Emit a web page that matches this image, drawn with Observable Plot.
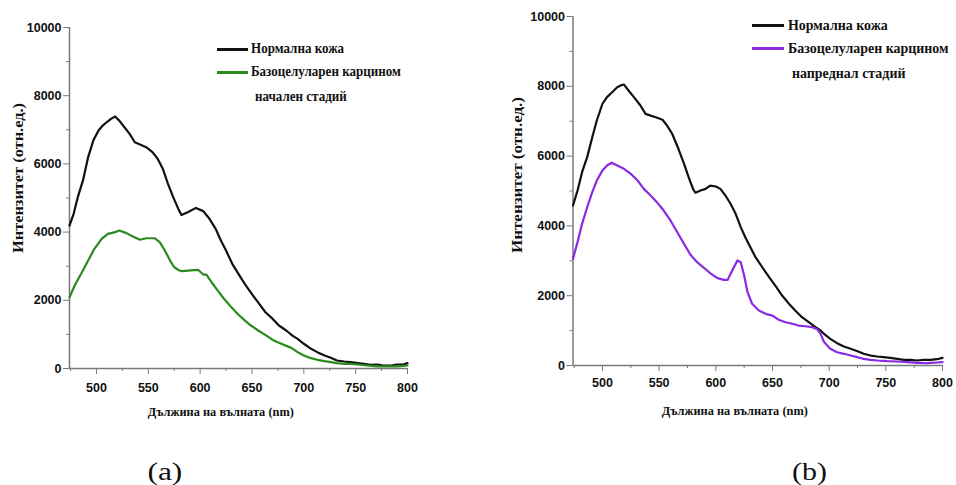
<!DOCTYPE html>
<html>
<head>
<meta charset="utf-8">
<script src="https://cdn.jsdelivr.net/npm/d3@7"></script>
<script src="https://cdn.jsdelivr.net/npm/@observablehq/plot@0.6"></script>
<style>
  html, body { margin: 0; padding: 0; background: #fff; }
  #wrap { position: relative; width: 956px; height: 485px; overflow: hidden;
          font-family: "Liberation Serif", "Times New Roman", serif; color: #111; }
  .panel { position: absolute; top: 0; }
  .t { position: absolute; white-space: nowrap; font-weight: bold; line-height: 1; }
  .sw { position: absolute; height: 3px; }
  .cap { position: absolute; white-space: nowrap; font-weight: normal; line-height: 1; }
</style>
</head>
<body>
<div id="wrap"></div>
<script>
// ---------------- data ----------------
const xDomain = [474, 800];
const yDomain = [0, 10000];
const xMajor = [500, 550, 600, 650, 700, 750, 800];
const xMinor = [475, 525, 575, 625, 675, 725, 775];
const yMajor = [0, 2000, 4000, 6000, 8000, 10000];
const yMinor = [1000, 3000, 5000, 7000, 9000];

const xTitle = "Дължина на вълната (nm)";
const yTitle = "Интензитет (отн.ед.)";
const legendNormal = "Нормална кожа";
const legendBcc = "Базоцелуларен карцином";
const stageA = "начален стадий";
const stageB = "напреднал стадий";
const captions = ["(a)", "(b)"];

// (a) normal skin
const aNormalW = [474,478,482,487,492,497,502,506,511,514,518,522,527,532,537,542,548,554,559,564,569,574,579,582,588,596,603,609,615,620,625,631,638,644,651,657,663,670,676,683,689,694,700,707,713,720,726,732,739,745,752,758,764,771,777,784,790,796,800];
const aNormalI = [4190,4535,5025,5515,6200,6690,6980,7125,7250,7320,7390,7270,7075,6880,6635,6570,6490,6345,6150,5855,5415,5025,4680,4500,4585,4710,4615,4390,4095,3755,3460,3070,2725,2435,2140,1895,1650,1455,1260,1115,965,870,725,577,480,380,313,235,205,185,157,137,108,117,88,88,117,117,157];
// (a) basal cell carcinoma, early stage
const aBccW = [474,479,486,492,498,505,511,518,522,529,535,542,548,556,561,566,571,575,580,583,591,598,603,606,611,617,623,630,636,643,649,656,664,671,680,688,694,700,707,713,720,726,732,739,745,752,761,771,781,790,800];
const aBccI = [2090,2435,2825,3165,3510,3800,3950,4000,4045,3970,3870,3775,3820,3820,3705,3460,3165,2970,2875,2855,2875,2895,2755,2755,2530,2285,2045,1800,1605,1410,1260,1115,965,820,705,605,480,380,303,255,215,185,157,137,137,117,88,60,60,60,88];

// (b) normal skin
const bNormalW = [474,478,482,486.5,491,495,500,504,508.5,513,516,519,523,529,533.5,538,542.5,547,553,557,561.5,567,572,576,580,582,586.5,591,595,600,604,608.5,613,617.5,622,626,630.5,635,641,647,652.5,658.5,664.5,670,676,682,688,692.5,695.5,701,707,713,719,725,730.5,736.5,742.5,748,754,760,766,772,777.5,783.5,789.5,795,800];
const bNormalI = [4585,5015,5540,5970,6540,7020,7500,7690,7830,7975,8025,8050,7880,7640,7450,7210,7160,7115,7040,6875,6640,6210,5780,5395,5050,4950,5015,5060,5155,5130,5060,4870,4635,4345,3965,3675,3390,3105,2815,2530,2290,2005,1770,1575,1385,1240,1100,1005,905,765,640,545,478,410,335,285,258,238,220,190,163,163,143,163,163,180,220];
// (b) basal cell carcinoma, advanced stage
const bBccW = [474,478,482,486.5,491,495,500,504,508,513,519,525,531,536.5,542.5,548,554,560,566,572,577.5,583.5,589.5,595,601,607,610.5,614.5,619,622,625,628,632,638,644,650,655.5,661.5,667.5,673,679,685,689.5,692.5,695.5,701,707,713,719,725,730.5,736.5,742.5,751,760,769,777.5,786.5,795,800];
const bBccI = [3055,3535,4060,4535,4965,5300,5590,5730,5810,5730,5635,5490,5300,5060,4870,4680,4440,4155,3820,3485,3180,2960,2800,2645,2510,2455,2455,2720,3010,2960,2580,2100,1770,1575,1480,1430,1310,1240,1195,1145,1125,1100,1040,900,670,478,380,335,285,238,190,163,143,123,115,95,77,66,86,95];

// ---------------- drawing ----------------
const axisGray = "#7a7a7a";
const colNormal = "#111111";
const colEarly = "#2a8a1e";
const colAdv = "#8a2be2";

function rows(w, i) { return w.map((d, k) => ({w: d, i: i[k]})); }

function panel(cfg) {
  const lines = cfg.series.map(s =>
    Plot.line(rows(s.w, s.i), {x: "w", y: "i", stroke: s.color, strokeWidth: 2.2, strokeLinejoin: "round"}));
  return Plot.plot({
    width: cfg.width, height: cfg.height,
    marginLeft: cfg.ml, marginRight: cfg.mr, marginTop: cfg.mt, marginBottom: cfg.mb,
    x: {domain: xDomain},
    y: {domain: yDomain},
    style: {fontFamily: "'Liberation Sans', Arial, sans-serif", fontSize: "12.5px", fontWeight: "bold", color: "#111", background: "transparent", overflow: "visible"},
    marks: [
      Plot.axisX({ticks: xMajor, tickSize: 6, tickPadding: cfg.xPad, stroke: axisGray, fill: "#111", label: null, tickFormat: d => String(d)}),
      Plot.axisX({ticks: xMinor, tickSize: 3, stroke: axisGray, label: null, tickFormat: () => ""}),
      Plot.axisY({ticks: yMajor, tickSize: 6, tickPadding: 2, stroke: axisGray, fill: "#111", label: null, tickFormat: d => String(d)}),
      Plot.axisY({ticks: yMinor, tickSize: 3, stroke: axisGray, label: null, tickFormat: () => ""}),
      Plot.ruleX([xDomain[0]], {stroke: axisGray, strokeWidth: 1.5}),
      Plot.ruleY([yDomain[0]], {stroke: axisGray, strokeWidth: 1.5}),
      ...lines
    ]
  });
}

const wrap = document.getElementById("wrap");

function place(el, left, top) {
  el.style.left = left + "px"; el.style.top = top + "px"; wrap.appendChild(el); return el;
}

const panels = [
  {left: 0, width: 430, height: 425, ml: 69, mr: 23, mt: 27, mb: 57, xPad: 9,
   series: [{w: aNormalW, i: aNormalI, color: colNormal}, {w: aBccW, i: aBccI, color: colEarly}]},
  {left: 480, width: 476, height: 425, ml: 92.5, mr: 14, mt: 16, mb: 60, xPad: 7,
   series: [{w: bNormalW, i: bNormalI, color: colNormal}, {w: bBccW, i: bBccI, color: colAdv}]}
];

panels.forEach(p => {
  const d = document.createElement("div");
  d.className = "panel";
  d.appendChild(panel(p));
  place(d, p.left, 0);
});

// legends
const legends = [
  {x0: 217, x1: 248, tx: 251, tx2: 255, ys: [49, 72, 97], size: 14, sx: 0.93, colors: [colNormal, colEarly], stage: stageA},
  {x0: 752, x1: 784, tx: 788, tx2: 792, ys: [25, 48, 73], size: 15, sx: 0.93, colors: [colNormal, colAdv], stage: stageB}
];
legends.forEach(L => {
  L.colors.forEach((c, k) => {
    const s = document.createElement("div");
    s.className = "sw";
    s.style.width = (L.x1 - L.x0) + "px";
    s.style.background = c;
    place(s, L.x0, L.ys[k] - 1.5);
  });
  [[legendNormal, L.tx, L.ys[0]], [legendBcc, L.tx, L.ys[1]], [L.stage, L.tx2, L.ys[2]]].forEach(([txt, x, y]) => {
    const t = document.createElement("div");
    t.className = "t";
    t.textContent = txt;
    t.style.fontSize = L.size + "px";
    t.style.transformOrigin = "left center";
    t.style.transform = `scaleX(${L.sx})`;
    place(t, x, y - L.size / 2);
  });
});

// axis titles
const titles = [
  {x: 221, y: 412}, {x: 735, y: 411}
];
titles.forEach(T => {
  const t = document.createElement("div");
  t.className = "t";
  t.textContent = xTitle;
  t.style.fontSize = "12px";
  place(t, 0, T.y - 6);
  const w = t.getBoundingClientRect().width;
  t.style.transformOrigin = "center center";
  t.style.transform = `scaleX(${146 / w})`;
  t.style.left = (T.x - w / 2) + "px";
});
const ytitles = [{x: 19, y: 178, len: 150}, {x: 518, y: 175, len: 156}];
ytitles.forEach(T => {
  const t = document.createElement("div");
  t.className = "t";
  t.textContent = yTitle;
  t.style.fontSize = "14px";
  place(t, 0, 0);
  const r = t.getBoundingClientRect();
  t.style.transformOrigin = "center center";
  t.style.transform = `rotate(-90deg) scaleX(${T.len / r.width})`;
  t.style.left = (T.x - r.width / 2) + "px";
  t.style.top = (T.y - r.height / 2) + "px";
});
// captions
[[165, 471], [810, 471]].forEach(([x, y], k) => {
  const c = document.createElement("div");
  c.className = "cap";
  c.textContent = captions[k];
  c.style.fontSize = "25px";
  place(c, 0, 0);
  const r = c.getBoundingClientRect();
  c.style.transformOrigin = "center center";
  c.style.transform = `scaleX(${35 / r.width})`;
  c.style.left = (x - r.width / 2) + "px";
  c.style.top = (y - r.height / 2) + "px";
});
</script>
</body>
</html>
